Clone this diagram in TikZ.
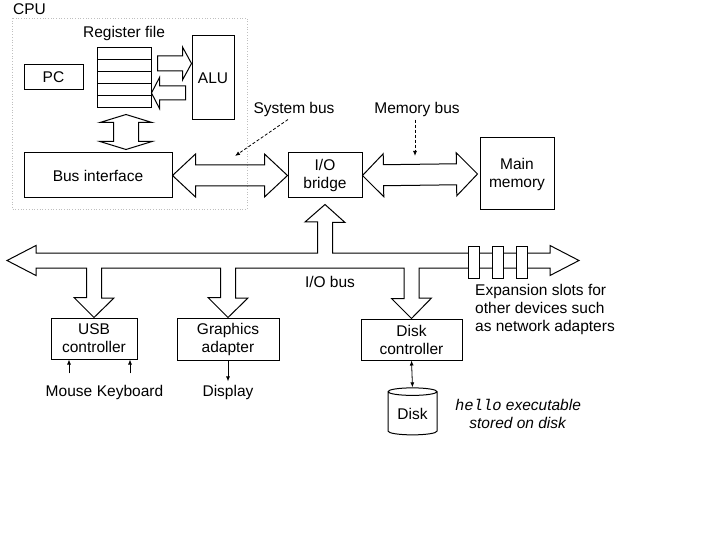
\documentclass[tikz,border=0pt]{standalone}
\usepackage{fontspec}
\setmainfont{Liberation Sans}
\setmonofont{Liberation Mono}
\usetikzlibrary{calc,arrows.meta,shapes.geometric}

% hollow bus arrow, one head: from #1 to #2, shaft #3, head #4, head length #5
\newcommand{\fatarrow}[5]{%
  \path ($(#2)!#5!(#1)$) coordinate (fb);
  \draw[fat] ($(#1)!#3!90:(#2)$) -- ($(fb)!#3!-90:(#1)$) -- ($(fb)!#4!-90:(#1)$)
    -- (#2) -- ($(fb)!#4!90:(#1)$) -- ($(fb)!#3!90:(#1)$) -- ($(#1)!#3!-90:(#2)$) -- cycle;
}
% hollow bus arrow, two heads
\newcommand{\dfatarrow}[5]{%
  \path ($(#1)!#5!(#2)$) coordinate (fa) ($(#2)!#5!(#1)$) coordinate (fb);
  \draw[fat] (#1) -- ($(fa)!#4!90:(#2)$) -- ($(fa)!#3!90:(#2)$) -- ($(fb)!#3!-90:(#1)$)
    -- ($(fb)!#4!-90:(#1)$) -- (#2) -- ($(fb)!#4!90:(#1)$) -- ($(fb)!#3!90:(#1)$)
    -- ($(fa)!#3!-90:(#2)$) -- ($(fa)!#4!-90:(#2)$) -- cycle;
}
% branches of the I/O bus
\newcommand{\tapdown}[1]{%
  -- ($(#1.north |- busb)+(7.5,0)$) -- ++(0,30) -- ++(12.5,0) -- (#1.north)
  -- ++(-20,-20) -- ++(12.5,0) -- ($(#1.north |- busb)+(-7.5,0)$)}
\newcommand{\tapup}[1]{%
  -- ($(#1.south |- bust)+(-7.5,0)$) -- ++(0,-31) -- ++(-12.5,0) -- ($(#1.south)+(0,6)$)
  -- ++(20,18) -- ++(-12.5,0) -- ($(#1.south |- bust)+(7.5,0)$)}

\begin{document}
\begin{tikzpicture}
        [x=1pt, y=-1pt, font=\fontsize{15.5}{18}\selectfont,
        box/.style={draw, line width=1pt, inner sep=0pt, align=center},
        cell/.style={draw, line width=1pt, minimum width=54pt, minimum height=12pt, inner sep=0pt},
        slot/.style={draw, line width=1pt, fill=white, minimum width=11pt, minimum height=32pt, inner sep=0pt},
        disk/.style={cylinder, shape border rotate=90, aspect=0.25, draw, line width=1pt,
                     minimum width=49pt, minimum height=47pt, inner sep=0pt},
        tag/.style={text height=11pt, text depth=3pt},
        fat/.style={draw, line width=1pt, line join=miter},
        wire/.style={line width=0.8pt, -{Latex[length=5pt,width=4pt]}},
        hint/.style={line width=0.8pt, dash pattern=on 3pt off 2pt, -{Latex[length=5pt,width=4pt]}},
        cpuline/.style={gray!50, dotted, line width=0.7pt}]

        \useasboundingbox (0,0) rectangle (720,540);

        % CPU
        \node[anchor=west, inner sep=0pt] (cpu) at (13,9) {CPU};
        \draw[cpuline] (12,18) rectangle (247,209);
        \node[tag] (reglabel) at (124,34) {Register file};
        \foreach \i in {0,...,4}
            \node[cell] (r\i) at (124,54+12*\i) {};
        \node[box, minimum width=42pt, minimum height=84pt] (alu) at (213,78) {ALU};
        \node[box, minimum width=59pt, minimum height=25pt] (pc) at (53.5,77.5) {PC};
        \node[box, minimum width=148pt, minimum height=45pt] (busif) at (98,175.5) {Bus interface};

        % bridge and memory
        \node[box, minimum width=74pt, minimum height=45pt] (bridge) at (325,175.5) {I/O\\bridge};
        \node[box, minimum width=74pt, minimum height=72pt] (memory) at (517,174) {Main\\memory};

        % devices
        \node[box, minimum width=86pt, minimum height=41pt] (usb) at (94,338.5) {USB\\controller};
        \node[box, minimum width=102pt, minimum height=42pt] (gfx) at (228,339) {Graphics\\adapter};
        \node[box, minimum width=101pt, minimum height=41pt] (diskctl) at (411.5,339.5) {Disk\\controller};
        \node[disk] (disk) at (412.5,413.5) {Disk};

        % labels
        \node[tag] (sysbus) at (294,110) {System bus};
        \node[tag] (membus) at (417,110) {Memory bus};
        \node[tag] (iobus) at (330,283) {I/O bus};
        \node[tag] (mouse) at (69,392) {Mouse};
        \node[tag] (keyboard) at (130,392) {Keyboard};
        \node[tag] (display) at (228,392) {Display};
        \node[anchor=west, align=left, inner sep=0pt] (slots) at (475,309.5)
            {Expansion slots for\\other devices such\\as network adapters};
        \node[align=center] (hello) at (518,414)
            {\texttt{\itshape hello} \textit{executable}\\\textit{stored on disk}};

        % register file <-> ALU
        \coordinate (wr) at ($(r1.east)+(6,-2.5)$);
        \coordinate (wa) at (alu.west |- wr);
        \fatarrow{wr}{wa}{7.5pt}{16.5pt}{9pt}
        \coordinate (ra) at ($(alu.west)+(-6,15)$);
        \coordinate (rr) at (r3.east |- ra);
        \fatarrow{ra}{rr}{7pt}{15.5pt}{8pt}

        % register file <-> bus interface
        \coordinate (rtop) at ($(r4.south)+(2,6)$);
        \coordinate (rbot) at ($(busif.north -| rtop)+(0,-3)$);
        \dfatarrow{rtop}{rbot}{12.5pt}{26pt}{8pt}

        % system bus and memory bus
        \dfatarrow{busif.east}{bridge.west}{10.5pt}{21.5pt}{23pt}
        \coordinate (memin) at ($(memory.west)+(-2,0)$);
        \dfatarrow{bridge.east}{memin}{10.5pt}{21.5pt}{21pt}

        % I/O bus
        \coordinate (bust) at (0,253);
        \coordinate (busb) at (0,268);
        \draw[fat] (7,260.5) -- (36,245.5) -- (36,253) \tapup{bridge} -- (550,253) -- (550,245.5)
            -- (579,260.5) -- (550,275.5) -- (550,268) \tapdown{diskctl} \tapdown{gfx} \tapdown{usb}
            -- (36,268) -- (36,275.5) -- cycle;
        \foreach \x/\n in {473.5/1, 497.5/2, 521.5/3}
            \node[slot] (slot\n) at (\x,262) {};

        % thin arrows
        \draw[wire] ([yshift=8pt]mouse.north) -- (mouse.north |- usb.south);
        \draw[wire] ([yshift=8pt]keyboard.north) -- (keyboard.north |- usb.south);
        \draw[wire] (gfx.south) -- (display.north);
        \draw[wire, {Latex[length=5pt,width=4pt]}-{Latex[length=5pt,width=4pt]}] (diskctl.south) -- (disk.north);

        % bus names
        \coordinate (systip) at (235,156);
        \draw[hint] ([xshift=-6pt,yshift=1pt]sysbus.south) -- (systip);
        \coordinate (memtip) at ($(membus.south |- systip)+(-2,0)$);
        \draw[hint] ([xshift=-2pt,yshift=1pt]membus.south) -- (memtip);

    \end{tikzpicture}
\end{document}
